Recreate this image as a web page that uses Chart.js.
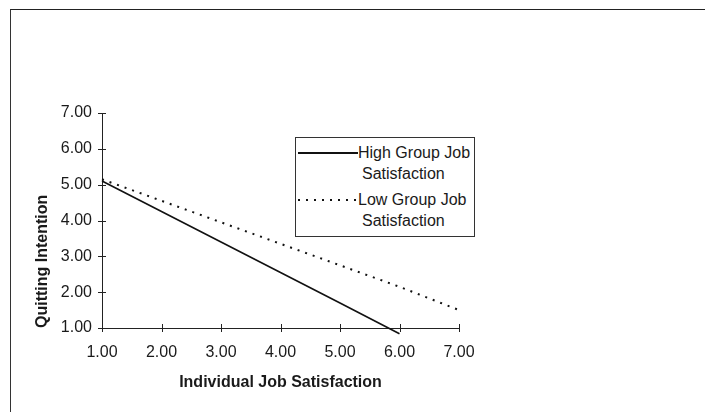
<!DOCTYPE html>
<html>
<head>
<meta charset="utf-8">
<script src="https://cdn.jsdelivr.net/npm/chart.js@4.4.0/dist/chart.umd.min.js"></script>
<style>
  body { margin: 0; background: #fff; }
  #wrap { position: relative; width: 705px; height: 412px; overflow: hidden; font-family: "Liberation Sans", Arial, sans-serif; color: #1a1a1a; }
  #frame { position: absolute; left: 10px; top: 9px; width: 700px; height: 410px; border-top: 1px solid #222; border-left: 1px solid #333; }
  #legend { position: absolute; left: 295px; top: 137px; width: 178px; height: 98px; border: 1px solid #333; background: #fff; font-size: 16px; line-height: 20px; }
  .item { position: absolute; left: 0; }
  .sample { position: absolute; left: 2px; width: 60px; }
  .txt { position: absolute; left: 62px; white-space: nowrap; }
</style>
</head>
<body>
<div id="wrap">
  <canvas id="myChart" width="705" height="412"></canvas>
  <div id="frame"></div>
  <div id="legend"></div>
</div>
<script>
// values
let xValues = [1, 2, 3, 4, 5, 6, 7];
let highGroup = [5.10, 4.25, 3.40, 2.55, 1.70, 0.84];
let lowGroup = [5.15, 4.55, 3.95, 3.35, 2.75, 2.15, 1.50];
let seriesNames = [["High Group Job", "Satisfaction"], ["Low Group Job", "Satisfaction"]];
let tickValues = [1, 2, 3, 4, 5, 6, 7];

const FONT = '"Liberation Sans", Arial, sans-serif';

// small cross ticks on both sides of each axis
const crossTicks = {
  id: 'crossTicks',
  afterDraw(chart) {
    const ctx = chart.ctx;
    const xs = chart.scales.x, ys = chart.scales.y;
    ctx.save();
    ctx.strokeStyle = '#222';
    ctx.lineWidth = 1;
    tickValues.forEach((v) => {
      let px = Math.round(xs.getPixelForValue(v)) + 0.5;
      ctx.beginPath();
      ctx.moveTo(px, ys.bottom - 4);
      ctx.lineTo(px, ys.bottom + 4);
      ctx.stroke();
      let py = Math.round(ys.getPixelForValue(v)) + 0.5;
      ctx.beginPath();
      ctx.moveTo(xs.left - 4, py);
      ctx.lineTo(xs.left + 4, py);
      ctx.stroke();
    });
    ctx.restore();
  }
};

let data1 = {};
data1.label = seriesNames[0].join(' ');
data1.data = highGroup.map((v, i) => ({x: xValues[i], y: v}));
data1.borderColor = '#111';
data1.borderWidth = 1.6;
data1.pointRadius = 0;
data1.clip = false;

let data2 = {};
data2.label = seriesNames[1].join(' ');
data2.data = lowGroup.map((v, i) => ({x: xValues[i], y: v}));
data2.borderColor = '#111';
data2.borderWidth = 2;
data2.borderDash = [2, 6];
data2.pointRadius = 0;
data2.clip = false;

let ctx = document.getElementById('myChart').getContext('2d');
const myChart = new Chart(ctx, {
  type: 'line',
  data: { datasets: [data1, data2] },
  options: {
    responsive: false,
    animation: false,
    layout: { padding: { left: 30, right: 246, top: 113, bottom: 0 } },
    plugins: { legend: { display: false }, tooltip: { enabled: false } },
    scales: {
      x: {
        type: 'linear', min: 1, max: 7,
        afterBuildTicks: (s) => { s.ticks = tickValues.map((v) => ({value: v})); },
        afterFit: (s) => { s.height = 84; },
        grid: { drawOnChartArea: false, drawTicks: false },
        border: { display: true, color: '#222', width: 1 },
        ticks: { padding: 15, color: '#1a1a1a', font: { family: FONT, size: 16 }, callback: (v) => v.toFixed(2) },
        title: { display: true, text: 'Individual Job Satisfaction', color: '#1a1a1a', padding: { top: 0, bottom: 20 }, font: { family: FONT, size: 16, weight: 'bold' } }
      },
      y: {
        type: 'linear', min: 1, max: 7,
        afterBuildTicks: (s) => { s.ticks = tickValues.map((v) => ({value: v})); },
        afterFit: (s) => { s.width = 72; },
        grid: { drawOnChartArea: false, drawTicks: false },
        border: { display: true, color: '#222', width: 1 },
        ticks: { padding: 10, color: '#1a1a1a', font: { family: FONT, size: 16 }, callback: (v) => v.toFixed(2) },
        title: { display: true, text: 'Quitting Intention', align: 'start', color: '#1a1a1a', padding: { top: 3, bottom: 0 }, font: { family: FONT, size: 16, weight: 'bold' } }
      }
    }
  },
  plugins: [crossTicks]
});

// html legend with two-line labels
let legend = document.getElementById('legend');
let rows = [15, 62];
seriesNames.forEach((name, i) => {
  let item = document.createElement('div');
  item.className = 'item';
  item.style.top = rows[i] + 'px';
  let s = document.createElement('div');
  s.className = 'sample';
  if (i == 0) {
    s.style.top = '-1px';
    s.style.height = '1.6px';
    s.style.background = '#111';
  } else {
    s.style.top = '-1px';
    s.style.height = '2px';
    s.style.background = 'repeating-linear-gradient(90deg,#111 0 2px,transparent 2px 8px)';
  }
  item.appendChild(s);
  name.forEach((t, j) => {
    let d = document.createElement('div');
    d.className = 'txt';
    d.style.top = (j * 21 - 10) + 'px';
    if (j == 1) d.style.left = '66px';
    d.textContent = t;
    item.appendChild(d);
  });
  legend.appendChild(item);
});
</script>
</body>
</html>
